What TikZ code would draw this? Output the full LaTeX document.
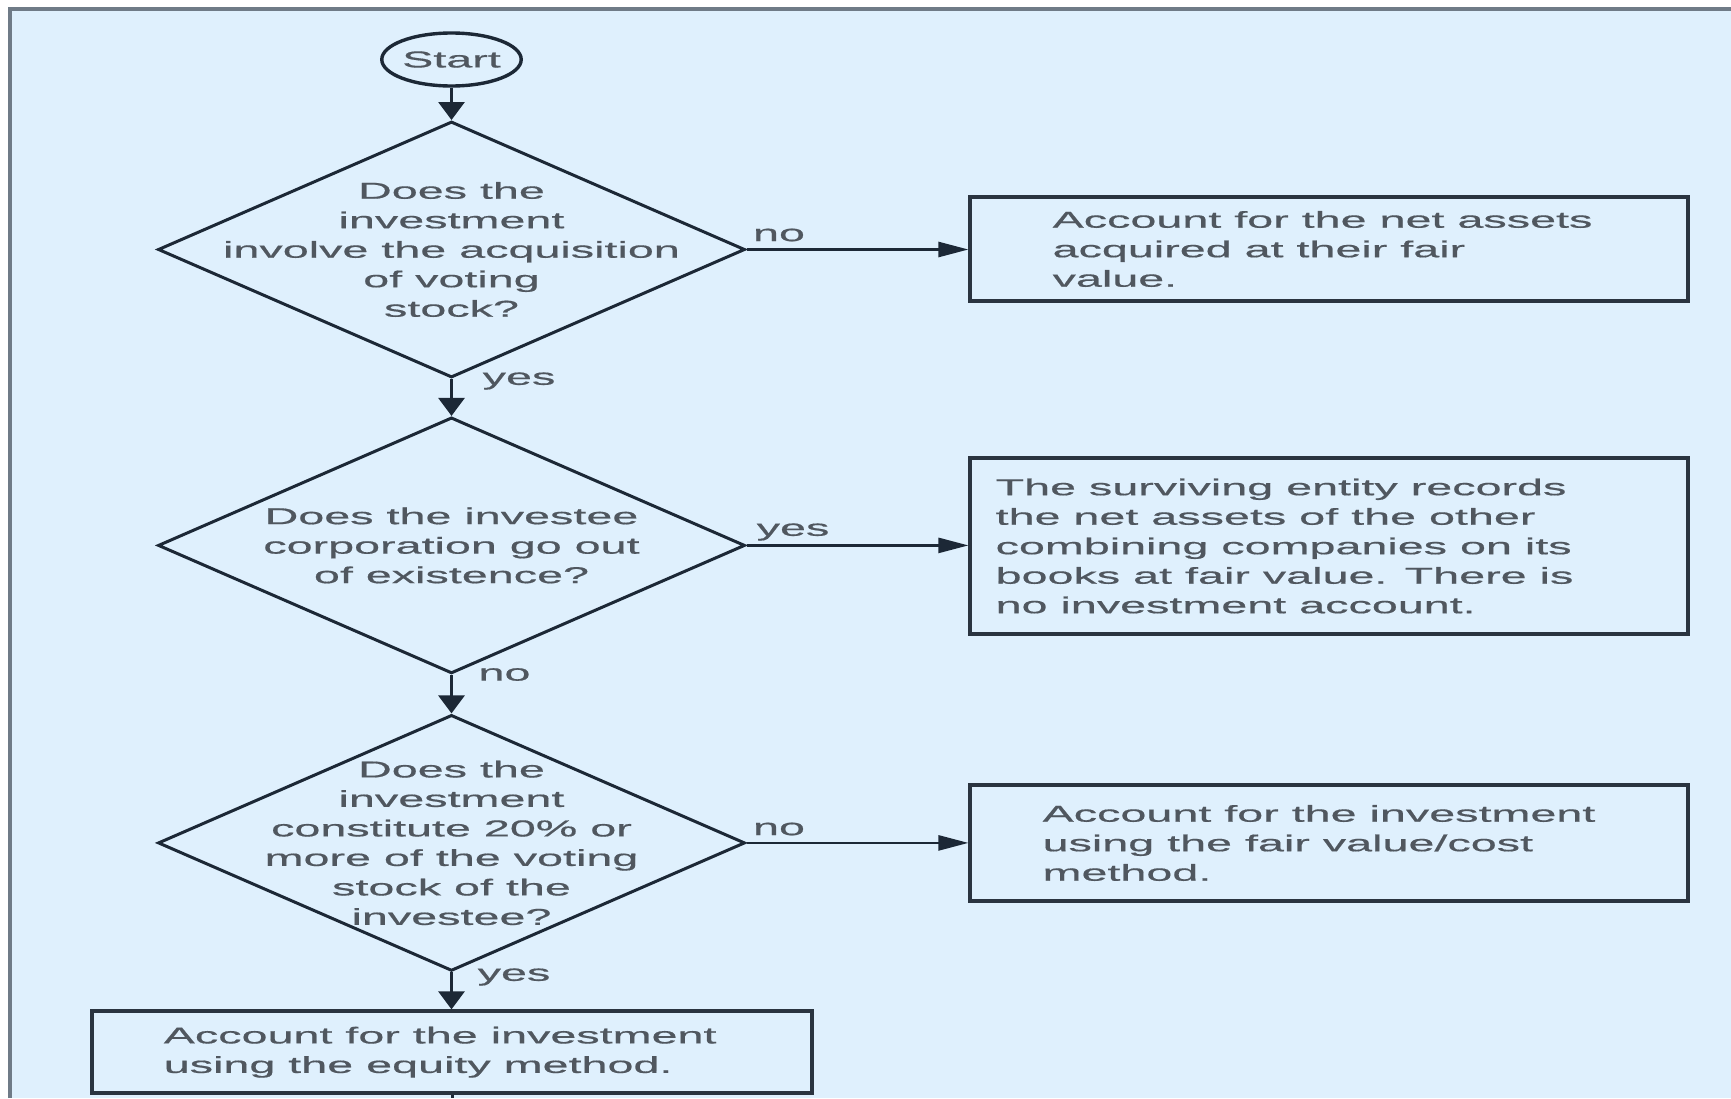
\documentclass[tikz,border=0pt]{standalone}
\usepackage{fontspec}
\setmainfont{Liberation Sans}
\newfontfamily\widefont[FakeStretch=2.03,FakeBold=0.6]{Liberation Sans}
\usetikzlibrary{shapes.geometric,arrows.meta}
\definecolor{bgblue}{HTML}{DFF0FD}
\definecolor{framegray}{HTML}{6F7B87}
\definecolor{ink}{HTML}{1C2836}
\definecolor{boxink}{HTML}{2A3440}
\definecolor{txt}{HTML}{50575F}
\begin{document}
\begin{tikzpicture}[x=1pt,y=-1pt,
  txtstyle/.style={font=\widefont\fontsize{23}{29.5}\selectfont, text=txt, inner sep=0pt},
  decision/.style={diamond, draw=ink, line width=3pt, minimum width=587pt, minimum height=256pt, inner sep=0pt},
  outbox/.style={rectangle, draw=boxink, line width=4pt, inner sep=0pt},
  harrow/.style={draw=ink, line width=2.6pt, -{Triangle[length=30pt,width=15pt]}},
  varrow/.style={draw=ink, line width=3pt, -{Triangle[length=18pt,width=26pt]}},
  plainline/.style={draw=ink, line width=3pt}
]
\useasboundingbox (0,0) rectangle (1731,1098);
\fill[white] (0,0) rectangle (1731,1098);
\fill[bgblue] (10,9) rectangle (1731,1098);
\draw[framegray, line width=3.5pt] (10,1098) -- (10,9) -- (1731,9);

% start
\node[ellipse, draw=ink, line width=3.4pt, minimum width=132pt, minimum height=53pt, inner sep=0pt, font=\widefont\fontsize{23}{29.5}\selectfont, text=txt] (start) at (451.5,59.5) {Start};

% decisions
\node[decision] (d1) at (451.5,249.5) {};
\node[txtstyle, align=center] (q1) at (d1.center) {Does the\\investment\\involve the acquisition\\of voting\\stock?};
\node[decision] (d2) at (451.5,545.4) {};
\node[txtstyle, align=center] (q2) at (d2.center) {Does the investee\\corporation go out\\of existence?};
\node[decision] (d3) at (451.5,842.9) {};
\node[txtstyle, align=center] (q3) at (d3.center) {Does the\\investment\\constitute 20\% or\\more of the voting\\stock of the\\investee?};

% outcome boxes
\node[outbox, minimum width=717.6pt, minimum height=104.9pt] (b1) at (1329.2,249) {};
\node[txtstyle, align=left, anchor=west] (t1) at ([xshift=84pt]b1.west) {Account for the net assets\\acquired at their fair\\value.};
\node[outbox, minimum width=717.6pt, minimum height=175.5pt] (b2) at (1329.2,546) {};
\node[txtstyle, align=left, anchor=west] (t2) at ([xshift=27pt]b2.west) {The surviving entity records\\the net assets of the other\\combining companies on its\\books at fair value. There is\\no investment account.};
\node[outbox, minimum width=717.6pt, minimum height=115.9pt] (b3) at (1329.2,843) {};
\node[txtstyle, align=left, anchor=west] (t3) at ([xshift=74pt]b3.west) {Account for the investment\\using the fair value/cost\\method.};
\node[outbox, minimum width=720.9pt, minimum height=81.7pt] (b4) at (452,1052.2) {};
\node[txtstyle, align=left, anchor=west] (t4) at ([xshift=74pt]b4.west) {Account for the investment\\using the equity method.};

% connectors
\draw[varrow] (start.south) -- (d1.north);
\draw[harrow] (d1.east) -- (d1.east -| b1.west);
\draw[varrow] (d1.south) -- (d2.north);
\draw[harrow] (d2.east) -- (d2.east -| b2.west);
\draw[varrow] (d2.south) -- (d3.north);
\draw[harrow] (d3.east) -- (d3.east -| b3.west);
\draw[varrow] (d3.south) -- (d3.south |- b4.north);
\coordinate (exit) at (452,1098);
\draw[plainline] (b4.south) -- (exit);

% labels
\node[txtstyle] (n1) at (779,235) {no};
\node[txtstyle] (y1) at (519,381) {yes};
\node[txtstyle] (y2) at (793,532) {yes};
\node[txtstyle] (n2) at (504.5,674.5) {no};
\node[txtstyle] (n3) at (779,829) {no};
\node[txtstyle] (y3) at (514,977) {yes};
\end{tikzpicture}
\end{document}
